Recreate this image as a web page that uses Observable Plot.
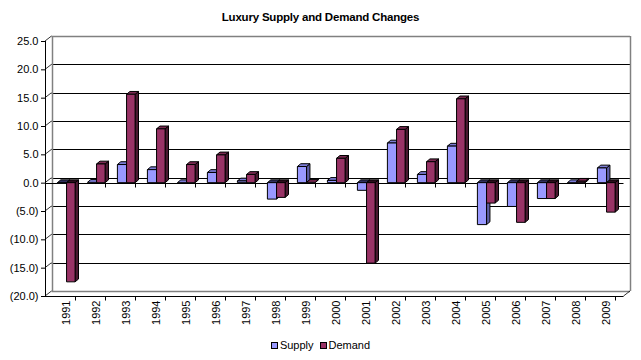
<!DOCTYPE html>
<html>
<head>
<meta charset="utf-8">
<script src="https://cdn.jsdelivr.net/npm/d3@7"></script>
<script src="https://cdn.jsdelivr.net/npm/@observablehq/plot@0.6"></script>
<style>
  html, body { margin: 0; padding: 0; background: #fff; }
  #wrap { position: relative; width: 641px; height: 360px; overflow: hidden; font-family: Arial, "Liberation Sans", sans-serif; }
  #title { position: absolute; left: 0; top: 11px; width: 641px; text-align: center; font-weight: bold; font-size: 11.5px; letter-spacing: -0.2px; color: #000; }
  #legend { position: absolute; left: 0; top: 339px; width: 641px; display: flex; justify-content: center; font-size: 11px; color: #000; }
  .item { display: flex; align-items: center; margin: 0 3px; }
  .sw { width: 5px; height: 5px; border: 1px solid #000; margin-right: 2px; }
  #chart { position: absolute; left: 0; top: 0; }
</style>
</head>
<body>
<div id="wrap">
  <div id="chart"></div>
  <div id="title">Luxury Supply and Demand Changes</div>
  <div id="legend"></div>
</div>
<script>
const years = ["1991","1992","1993","1994","1995","1996","1997","1998","1999","2000",
               "2001","2002","2003","2004","2005","2006","2007","2008","2009"];
const supply = [-0.1, 0.05, 3.2, 2.3, 0.0, 1.8, 0.3, -2.9, 2.85, 0.4,
                -1.35, 7.0, 1.45, 6.45, -7.4, -4.2, -2.8, 0.0, 2.6];
const demand = [-17.5, 3.3, 15.6, 9.5, 3.2, 4.9, 1.45, -2.6, 0.05, 4.3,
                -14.2, 9.4, 3.7, 14.8, -3.6, -7.0, -2.8, 0.25, -5.2];
const yTicks = [25, 20, 15, 10, 5, 0, -5, -10, -15, -20];
const seriesNames = ["Supply", "Demand"];
const seriesColors = {
  Supply: {front: "#9999FF", top: "#7C7CD6", side: "#5E5EA6", negTop: "#30305E"},
  Demand: {front: "#993366", top: "#7A2A52", side: "#4A1830", negTop: "#2A0E1C"}
};

const fmt = v => v < 0 ? "(" + d3.format(".1f")(-v) + ")" : d3.format(".1f")(v);
const crisp = v => Math.round(v) + 0.5;

// back wall offset (3D depth)
const WDX = 6.5, WDY = -5;
// bar depth
const BDX = 3.4, BDY = -2.8;

function frame(index, scales, values, dims) {
  const x = scales.x, y = scales.y;
  const g = d3.create("svg:g");
  const x0 = dims.marginLeft, x1 = dims.width - dims.marginRight;
  const yTop = y(d3.max(yTicks)), yBot = y(d3.min(yTicks));
  const step = x(years[1]) - x(years[0]);
  for (const v of yTicks) {
    const gray = v === d3.max(yTicks) || v === d3.min(yTicks);
    const yy = crisp(y(v) + WDY);
    g.append("line").attr("x1", x0 + WDX).attr("x2", x1 + WDX)
      .attr("y1", yy).attr("y2", yy)
      .attr("stroke", gray ? "#808080" : "#000").attr("stroke-width", gray ? 1.5 : 1.2);
    g.append("line").attr("x1", x0).attr("y1", y(v)).attr("x2", x0 + WDX).attr("y2", y(v) + WDY)
      .attr("stroke", "#000").attr("stroke-width", 0.8);
  }
  g.append("line").attr("x1", crisp(x0 + WDX)).attr("x2", crisp(x0 + WDX)).attr("y1", yTop + WDY).attr("y2", yBot + WDY)
    .attr("stroke", "#808080").attr("stroke-width", 1.5);
  g.append("line").attr("x1", crisp(x1 + WDX)).attr("x2", crisp(x1 + WDX)).attr("y1", yTop + WDY).attr("y2", yBot + WDY)
    .attr("stroke", "#808080").attr("stroke-width", 1.5);
  g.append("line").attr("x1", x1).attr("y1", yBot).attr("x2", x1 + WDX).attr("y2", yBot + WDY)
    .attr("stroke", "#000").attr("stroke-width", 0.8);
  g.append("line").attr("x1", crisp(x0)).attr("x2", crisp(x0)).attr("y1", yTop).attr("y2", yBot)
    .attr("stroke", "#000").attr("stroke-width", 1);
  for (const yv of [yBot, y(0)]) {
    const yy = crisp(yv);
    g.append("line").attr("x1", x0).attr("x2", x1).attr("y1", yy).attr("y2", yy)
      .attr("stroke", "#000").attr("stroke-width", 1);
    for (let k = 1; k <= years.length; k++) {
      const xx = crisp(x0 + k * step);
      g.append("line").attr("x1", xx).attr("x2", xx).attr("y1", yy).attr("y2", yy + 4)
        .attr("stroke", "#000").attr("stroke-width", 1);
    }
  }
  return g.node();
}

function bars(index, scales, values, dims) {
  const x = scales.x, y = scales.y;
  const g = d3.create("svg:g").attr("stroke", "#000").attr("stroke-width", 1).attr("stroke-linejoin", "round");
  const step = x(years[1]) - x(years[0]);
  const edges = [0.28, 0.585, 0.87];
  const y0 = y(0);
  const poly = (pts, fill) => g.append("polygon")
    .attr("points", pts.map(p => p.join(",")).join(" ")).attr("fill", fill);
  years.forEach((yr, i) => {
    const b = x(yr);
    [supply[i], demand[i]].forEach((v, s) => {
      const c = seriesColors[seriesNames[s]];
      const xa = b + edges[s] * step, xb = b + edges[s + 1] * step;
      const yv = y(v);
      const ya = Math.min(yv, y0), yb = Math.max(yv, y0);
      poly([[xb, ya], [xb + BDX, ya + BDY], [xb + BDX, yb + BDY], [xb, yb]], c.side);
      poly([[xa, ya], [xa + BDX, ya + BDY], [xb + BDX, ya + BDY], [xb, ya]], v < 0 ? c.negTop : c.top);
      if (yb - ya > 0.3) poly([[xa, ya], [xb, ya], [xb, yb], [xa, yb]], c.front);
    });
  });
  return g.node();
}

const chart = Plot.plot({
  width: 641,
  height: 360,
  marginLeft: 45,
  marginRight: 17.5,
  marginTop: 41,
  marginBottom: 64,
  style: {fontFamily: "Arial, 'Liberation Sans', sans-serif", fontSize: "11px", color: "#000", background: "transparent"},
  x: {type: "band", domain: years, padding: 0, axis: null},
  y: {domain: [d3.min(yTicks), d3.max(yTicks)], axis: null},
  marks: [
    frame,
    bars,
    Plot.axisY({ticks: yTicks, tickFormat: fmt, tickSize: 4, tickPadding: 3, anchor: "left", label: null}),
    Plot.axisX({ticks: years, tickRotate: -90, tickSize: 0, tickPadding: 4, dx: 2, anchor: "bottom", label: null})
  ]
});
document.getElementById("chart").appendChild(chart);

const legend = document.getElementById("legend");
for (const name of seriesNames) {
  const it = document.createElement("div");
  it.className = "item";
  const sw = document.createElement("div");
  sw.className = "sw";
  sw.style.background = seriesColors[name].front;
  const t = document.createElement("span");
  t.textContent = name;
  it.appendChild(sw); it.appendChild(t);
  legend.appendChild(it);
}
</script>
</body>
</html>
